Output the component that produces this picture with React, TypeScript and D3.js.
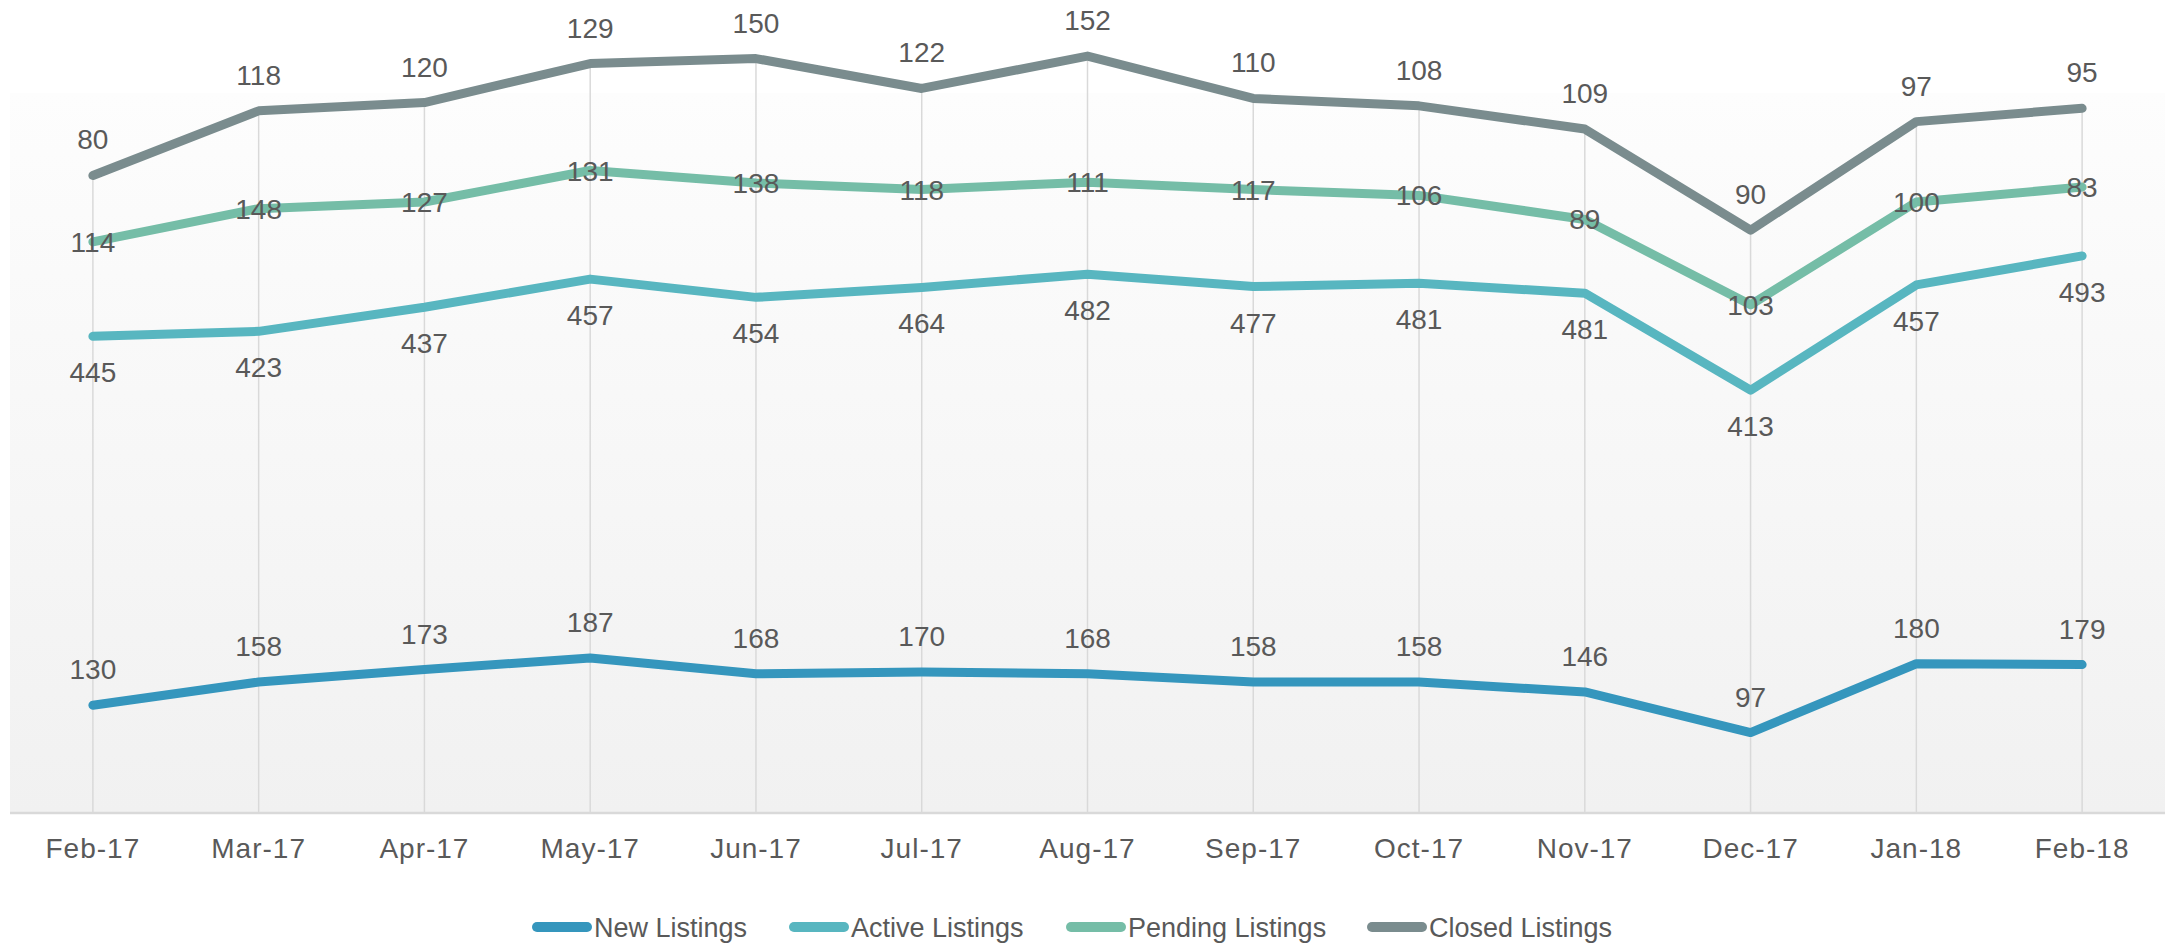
import React, { useRef, useEffect } from 'react';
import * as d3 from 'd3';

const months = ['Feb-17', 'Mar-17', 'Apr-17', 'May-17', 'Jun-17', 'Jul-17', 'Aug-17', 'Sep-17', 'Oct-17', 'Nov-17', 'Dec-17', 'Jan-18', 'Feb-18'];
const newListings = [130, 158, 173, 187, 168, 170, 168, 158, 158, 146, 97, 180, 179];
const activeListings = [445, 423, 437, 457, 454, 464, 482, 477, 481, 481, 413, 457, 493];
const pendingListings = [114, 148, 127, 131, 138, 118, 111, 117, 106, 89, 103, 100, 83];
const closedListings = [80, 118, 120, 129, 150, 122, 152, 110, 108, 109, 90, 97, 95];

const seriesNames = ['New Listings', 'Active Listings', 'Pending Listings', 'Closed Listings'];
const seriesColors = ['#3596bd', '#58b6c0', '#75bda7', '#7a8c8e'];
// where the value label sits relative to the point
const labelPlacement = ['above', 'below', 'center', 'above'];

const App: React.FC = () => {
  const svgRef = useRef<SVGSVGElement>(null);
  const width = 2165;
  const height = 943;

  useEffect(() => {
    if (!svgRef.current) return;
    d3.select(svgRef.current).selectAll('*').remove();

    const svg = d3.select(svgRef.current)
      .attr('width', width)
      .attr('height', height)
      .style('font-family', '"Liberation Sans", Arial, sans-serif');

    const plot = { left: 10, right: 2165, top: 93, bottom: 813 };
    const textColor = '#595959';

    const x = d3.scaleBand()
      .domain(months)
      .range([plot.left, plot.right]);
    const cx = (m: string) => (x(m) || 0) + x.bandwidth() / 2;

    const y = d3.scaleLinear()
      .domain([0, 1000])
      .range([plot.bottom, -16]);

    // stacked series
    const raw = [newListings, activeListings, pendingListings, closedListings];
    const stacked: number[][] = [];
    raw.forEach((vals, i) => {
      stacked.push(vals.map((v, j) => v + (i > 0 ? stacked[i - 1][j] : 0)));
    });

    // plot background
    const defs = svg.append('defs');
    const grad = defs.append('linearGradient')
      .attr('id', 'plotBg')
      .attr('x1', 0).attr('y1', 0).attr('x2', 0).attr('y2', 1);
    grad.append('stop').attr('offset', '0%').attr('stop-color', '#fdfdfd');
    grad.append('stop').attr('offset', '100%').attr('stop-color', '#f1f1f1');

    svg.append('rect')
      .attr('x', plot.left)
      .attr('y', plot.top)
      .attr('width', plot.right - plot.left)
      .attr('height', plot.bottom - plot.top)
      .attr('fill', 'url(#plotBg)');

    // drop lines
    const top = stacked[stacked.length - 1];
    svg.append('g')
      .selectAll('line')
      .data(months)
      .join('line')
      .attr('x1', d => cx(d))
      .attr('x2', d => cx(d))
      .attr('y1', (d, i) => y(top[i]))
      .attr('y2', plot.bottom)
      .attr('stroke', '#d9d9d9')
      .attr('stroke-width', 1.5);

    // x axis
    svg.append('line')
      .attr('x1', plot.left)
      .attr('x2', plot.right)
      .attr('y1', plot.bottom)
      .attr('y2', plot.bottom)
      .attr('stroke', '#d9d9d9')
      .attr('stroke-width', 2.5);

    svg.append('g')
      .selectAll('text')
      .data(months)
      .join('text')
      .attr('x', d => cx(d))
      .attr('y', 858)
      .attr('text-anchor', 'middle')
      .style('font-size', '28px')
      .style('letter-spacing', '1px')
      .style('fill', textColor)
      .text(d => d);

    // lines
    const line = d3.line<number>()
      .x((d, i) => cx(months[i]))
      .y(d => y(d));

    stacked.forEach((vals, i) => {
      svg.append('path')
        .datum(vals)
        .attr('d', line)
        .attr('fill', 'none')
        .attr('stroke', seriesColors[i])
        .attr('stroke-width', 9)
        .attr('stroke-linejoin', 'round')
        .attr('stroke-linecap', 'round');
    });

    // data labels
    stacked.forEach((vals, i) => {
      const place = labelPlacement[i];
      const dy = place === 'above' ? -26 : place === 'below' ? 46 : 10;
      svg.append('g')
        .selectAll('text')
        .data(vals)
        .join('text')
        .attr('x', (d, j) => cx(months[j]))
        .attr('y', d => y(d) + dy)
        .attr('text-anchor', 'middle')
        .style('font-size', '28px')
        .style('fill', textColor)
        .text((d, j) => raw[i][j]);
    });

    // legend
    const legendX = [532, 789, 1066, 1367];
    const legend = svg.append('g');
    seriesNames.forEach((name, i) => {
      legend.append('line')
        .attr('x1', legendX[i] + 5)
        .attr('x2', legendX[i] + 55)
        .attr('y1', 927)
        .attr('y2', 927)
        .attr('stroke', seriesColors[i])
        .attr('stroke-width', 10)
        .attr('stroke-linecap', 'round');
      legend.append('text')
        .attr('x', legendX[i] + 62)
        .attr('y', 937)
        .style('font-size', '27px')
        .style('fill', textColor)
        .text(name);
    });
  }, []);

  return (
    <svg ref={svgRef} style={{ position: 'absolute', left: 0, top: 0, display: 'block', background: '#fff' }} />
  );
};

export default App;
